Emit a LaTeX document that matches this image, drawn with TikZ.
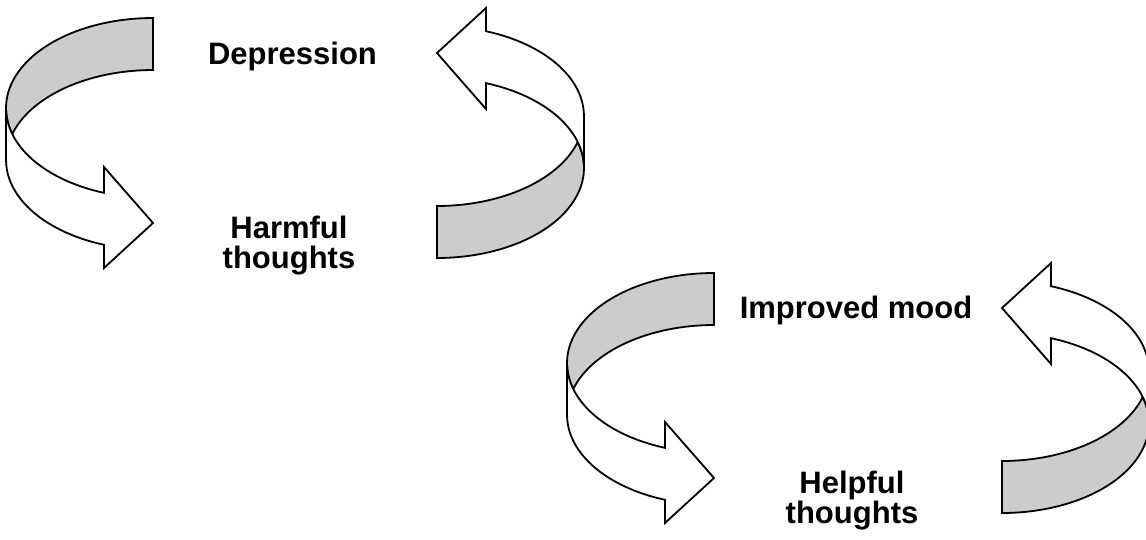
\documentclass[tikz,border=0pt]{standalone}
\usepackage{fontspec}
\setmainfont{Liberation Sans}
\definecolor{bandgray}{HTML}{CCCCCC}
\tikzset{
  band/.style={draw=black, line width=1.8pt, fill=bandgray},
  front/.style={draw=black, line width=1.8pt, fill=white},
  label/.style={font=\bfseries\fontsize{31}{29.5}\selectfont, align=center, anchor=base, inner sep=0pt},
  % one curled ribbon arrow, origin at the centre of its upper edge
  pics/curl/.style={code={
    \path[band] (0,90) arc[start angle=90, end angle=196.8, x radius=147, y radius=90]
      arc[start angle=163.2, end angle=90, x radius=147, y radius=90] -- cycle;
    \path[front] (-147,0) arc[start angle=180, end angle=250.5, x radius=147, y radius=90]
      -- (-49,-59) -- (0,-115) -- (-49,-160) -- (-49,-136.8)
      arc[start angle=250.5, end angle=180, x radius=147, y radius=90] -- cycle;
  }}
}
\begin{document}
\begin{tikzpicture}[x=1pt, y=1pt]
  \useasboundingbox (0,0) rectangle (1146,-539);
  \clip (0,0) rectangle (1146,-539);

  % Draw each arrow of the two cycles
  \foreach \px/\py/\rot in {
      153/-108/0,
      437/-168/180,
      714/-363/0,
      1002/-423/180
    } {
      \pic[rotate=\rot] at (\px,\py) {curl};
    }

  % multi-line labels sit on the baseline of their last line
  \node[label] (depression) at (292.5,-64) {Depression};
  \node[label] (harmful) at (289,-268) {Harmful\\thoughts};
  \node[label] (improved) at (856,-318) {Improved mood};
  \node[label] (helpful) at (852,-523) {Helpful\\thoughts};

\end{tikzpicture}
\end{document}
